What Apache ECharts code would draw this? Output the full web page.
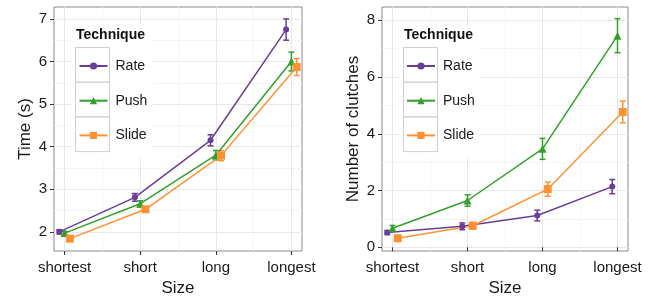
<!DOCTYPE html>
<html>
<head>
<meta charset="utf-8">
<script src="https://cdn.jsdelivr.net/npm/echarts@6/dist/echarts.min.js"></script>
<style>
  html, body { margin: 0; padding: 0; background: #fff; }
  #main { width: 656px; height: 296px; }
</style>
</head>
<body>
<div id="main"></div>
<script>
// categories on x
var sizes = ['shortest', 'short', 'long', 'longest'];
var techniques = ['Rate', 'Push', 'Slide'];
var colors = ['#6a3d9a', '#33a02c', '#fd9235'];
var symbols = ['circle', 'triangle', 'rect'];
var symbolSizes = [6, 8, 8];

// time (s): mean and error (+/-)
var timeRate = [2.0, 2.81, 4.15, 6.75];
var timeRateErr = [0.05, 0.09, 0.13, 0.25];
var timePush = [1.97, 2.66, 3.8, 6.0];
var timePushErr = [0.04, 0.07, 0.11, 0.22];
var timeSlide = [1.84, 2.53, 3.79, 5.87];
var timeSlideErr = [0.03, 0.05, 0.12, 0.2];

// number of clutches: mean and error (+/-)
var clutchRate = [0.52, 0.74, 1.12, 2.14];
var clutchRateErr = [0.07, 0.12, 0.19, 0.25];
var clutchPush = [0.67, 1.65, 3.47, 7.46];
var clutchPushErr = [0.1, 0.2, 0.37, 0.6];
var clutchSlide = [0.32, 0.76, 2.05, 4.77];
var clutchSlideErr = [0.05, 0.12, 0.25, 0.38];

var timeTicks = [2, 3, 4, 5, 6, 7];
var timeMinor = [2.5, 3.5, 4.5, 5.5, 6.5];
var clutchTicks = [0, 2, 4, 6, 8];
var clutchMinor = [1, 3, 5, 7];
var xTicks = [1, 2, 3, 4];
var xMinor = [1.5, 2.5, 3.5];

var dodge = [-0.07, 0, 0.07];
var font = "'Liberation Sans', Arial, sans-serif";

var chartDom = document.getElementById('main');
var myChart = echarts.init(chartDom);

function xAxes(gi) {
  return [
    {
      type: 'value', gridIndex: gi, min: 0.86, max: 4.14,
      axisLine: { show: false },
      axisTick: { show: true, length: 4, lineStyle: { color: '#333' }, customValues: xTicks },
      axisLabel: {
        customValues: xTicks, margin: 9, fontSize: 15, color: '#1a1a1a', fontFamily: font,
        formatter: function (v) { return sizes[Math.round(v) - 1]; }
      },
      splitLine: { show: true, lineStyle: { color: '#e8e8e8', width: 1 } },
      name: 'Size', nameLocation: 'middle', nameGap: 27,
      nameTextStyle: { fontSize: 17, color: '#1a1a1a', fontFamily: font }
    },
    {
      type: 'value', gridIndex: gi, min: 0.86, max: 4.14,
      axisLine: { show: false },
      axisTick: { show: false, customValues: xMinor },
      axisLabel: { show: false, customValues: xMinor },
      splitLine: { show: true, lineStyle: { color: '#f5f5f5', width: 1 } }
    }
  ];
}

function yAxes(gi, min, max, ticks, minor, name, gap) {
  return [
    {
      type: 'value', gridIndex: gi, min: min, max: max,
      axisLine: { show: false },
      axisTick: { show: true, length: 4, lineStyle: { color: '#333' }, customValues: ticks },
      axisLabel: { customValues: ticks, margin: 7, fontSize: 15, color: '#1a1a1a', fontFamily: font },
      splitLine: { show: true, lineStyle: { color: '#e8e8e8', width: 1 } },
      name: name, nameLocation: 'middle', nameGap: gap, nameRotate: 90,
      nameTextStyle: { fontSize: 17, color: '#1a1a1a', fontFamily: font }
    },
    {
      type: 'value', gridIndex: gi, min: min, max: max,
      axisLine: { show: false },
      axisTick: { show: false, customValues: minor },
      axisLabel: { show: false, customValues: minor },
      splitLine: { show: true, lineStyle: { color: '#f5f5f5', width: 1 } }
    }
  ];
}

function errorBars(name, vals, errs, k, xi, yi, color) {
  var data = vals.map(function (v, i) { return [i + 1 + dodge[k], v - errs[i], v + errs[i]]; });
  return {
    name: name + ' error', type: 'custom', xAxisIndex: xi, yAxisIndex: yi, z: 3,
    data: data,
    renderItem: function (params, api) {
      var lo = api.coord([api.value(0), api.value(1)]);
      var hi = api.coord([api.value(0), api.value(2)]);
      var w = 3;
      var st = { stroke: color, lineWidth: 1.5 };
      return {
        type: 'group',
        children: [
          { type: 'line', shape: { x1: lo[0], y1: lo[1], x2: hi[0], y2: hi[1] }, style: st },
          { type: 'line', shape: { x1: lo[0] - w, y1: lo[1], x2: lo[0] + w, y2: lo[1] }, style: st },
          { type: 'line', shape: { x1: hi[0] - w, y1: hi[1], x2: hi[0] + w, y2: hi[1] }, style: st }
        ]
      };
    }
  };
}

function lineSeries(name, vals, k, xi, yi) {
  return {
    name: name, type: 'line', xAxisIndex: xi, yAxisIndex: yi, z: 4,
    data: vals.map(function (v, i) { return [i + 1 + dodge[k], v]; }),
    symbol: symbols[k], symbolSize: symbolSizes[k],
    itemStyle: { color: colors[k] },
    lineStyle: { color: colors[k], width: 1.5 },
    emphasis: { disabled: true },
    animation: false
  };
}

var timeVals = [timeRate, timePush, timeSlide];
var timeErrs = [timeRateErr, timePushErr, timeSlideErr];
var clutchVals = [clutchRate, clutchPush, clutchSlide];
var clutchErrs = [clutchRateErr, clutchPushErr, clutchSlideErr];

var series = [];
techniques.forEach(function (t, k) {
  series.push(lineSeries(t, timeVals[k], k, 0, 0));
  series.push(errorBars(t, timeVals[k], timeErrs[k], k, 0, 0, colors[k]));
  series.push(lineSeries(t, clutchVals[k], k, 2, 2));
  series.push(errorBars(t, clutchVals[k], clutchErrs[k], k, 2, 2, colors[k]));
});

function legendBox(x) {
  var els = [
    { type: 'rect', shape: { x: x - 4, y: 25, width: 82, height: 132 }, style: { fill: '#fff' }, z: 10 },
    { type: 'text', x: x + 1, y: 35, style: { text: 'Technique', fontSize: 14, fontWeight: 'bold', fontFamily: font, fill: '#111', verticalAlign: 'middle' }, z: 11 }
  ];
  for (var i = 0; i < 3; i++) {
    els.push({ type: 'rect', shape: { x: x + 0.5, y: 47.5 + i * 34.7, width: 34, height: 34.7 },
      style: { fill: 'none', stroke: '#d0d0d0', lineWidth: 1 }, z: 11 });
  }
  return els;
}

function legend(left) {
  return {
    data: techniques, orient: 'vertical', left: left, top: 59, padding: 0,
    itemWidth: 28, itemHeight: 9, itemGap: 20.7,
    selectedMode: false, z: 12,
    textStyle: { fontSize: 14, color: '#1a1a1a', fontFamily: font, padding: [0, 0, 0, 3] }
  };
}

var option = {
  animation: false,
  grid: [
    { left: 54, top: 7, width: 248, height: 244, show: true, borderColor: '#8a8a8a', borderWidth: 1, backgroundColor: '#fff', outerBoundsMode: 'none' },
    { left: 382, top: 7, width: 246, height: 244, show: true, borderColor: '#8a8a8a', borderWidth: 1, backgroundColor: '#fff', outerBoundsMode: 'none' }
  ],
  xAxis: xAxes(0).concat(xAxes(1)),
  yAxis: yAxes(0, 1.55, 7.28, timeTicks, timeMinor, 'Time (s)', 20)
    .concat(yAxes(1, -0.13, 8.47, clutchTicks, clutchMinor, 'Number of clutches', 20)),
  legend: [legend(78.5), legend(406)],
  graphic: legendBox(75).concat(legendBox(403)),
  series: series
};

myChart.setOption(option);
</script>
</body>
</html>
